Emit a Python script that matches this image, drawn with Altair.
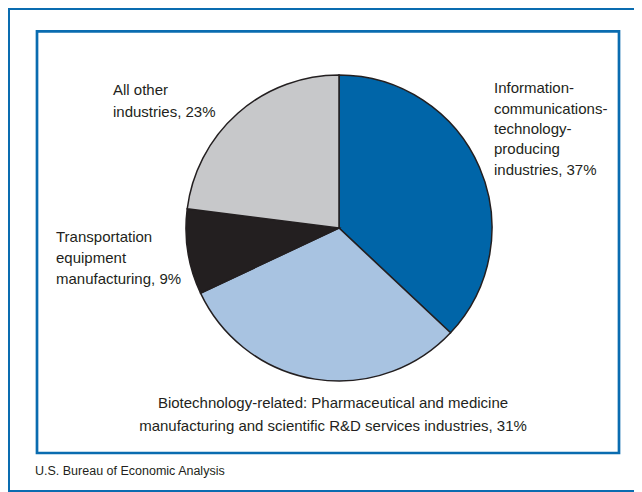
import altair as alt
import pandas as pd

# ---- data ----
categories = [
    "Information-communications-technology-producing industries",
    "Biotechnology-related industries",
    "Transportation equipment manufacturing",
    "All other industries",
]
shares = [37, 31, 9, 23]
slice_colors = ["#0065a8", "#a8c3e1", "#231f20", "#c7c8ca"]

label_ict = ["Information-", "communications-", "technology-", "producing", "industries, 37%"]
label_bio = ["Biotechnology-related: Pharmaceutical and medicine",
             "manufacturing and scientific R&D services industries, 31%"]
label_trans = ["Transportation", "equipment", "manufacturing, 9%"]
label_other = ["All other", "industries, 23%"]
source_note = "U.S. Bureau of Economic Analysis"

BLUE = "#0a6cb0"
INK = "#231f20"
W, H = 626, 484

df = pd.DataFrame({"category": categories, "share": shares, "order": list(range(len(categories)))})
one = alt.Data(values=[{"k": 1}])

pie = alt.Chart(df).mark_arc(radius=153, stroke=INK, strokeWidth=1.5).encode(
    theta=alt.Theta("share:Q", stack=True),
    order=alt.Order("order:Q"),
    color=alt.Color("category:N", scale=alt.Scale(domain=categories, range=slice_colors), legend=None),
    x=alt.value(331),
    y=alt.value(220),
)


def text_layer(lines, x, y, align="left", size=15, lh=21):
    return alt.Chart(one).mark_text(
        text=lines, align=align, baseline="alphabetic", font="Liberation Sans",
        fontSize=size, lineHeight=lh, color=INK,
    ).encode(x=alt.value(x), y=alt.value(y))


def rule(x1, x2, y1, y2, w=2):
    return alt.Chart(one).mark_rule(color=BLUE, strokeWidth=w).encode(
        x=alt.value(x1), x2=alt.value(x2), y=alt.value(y1), y2=alt.value(y2)
    )


inner_box = alt.Chart(one).mark_rect(filled=False, stroke=BLUE, strokeWidth=2.7).encode(
    x=alt.value(29), x2=alt.value(611), y=alt.value(23.3), y2=alt.value(445)
)

chart = alt.layer(
    rule(0, W, 1, 1),
    rule(1, 1, 0, 483),
    rule(0, W, 483, 483),
    inner_box,
    pie,
    text_layer(label_ict, 486, 85.3, lh=20.4),
    text_layer(label_other, 105, 87, lh=22),
    text_layer(label_trans, 48, 234, lh=21),
    text_layer(label_bio, 325, 400, align="center", lh=22.5),
    text_layer([source_note], 27, 467, size=12.5),
).properties(
    width=W, height=H, padding=0,
    autosize=alt.AutoSizeParams(type="none"),
).configure_view(strokeWidth=0).configure(background="white")

chart.save("out.html", embed_options={"renderer": "svg", "actions": False})
